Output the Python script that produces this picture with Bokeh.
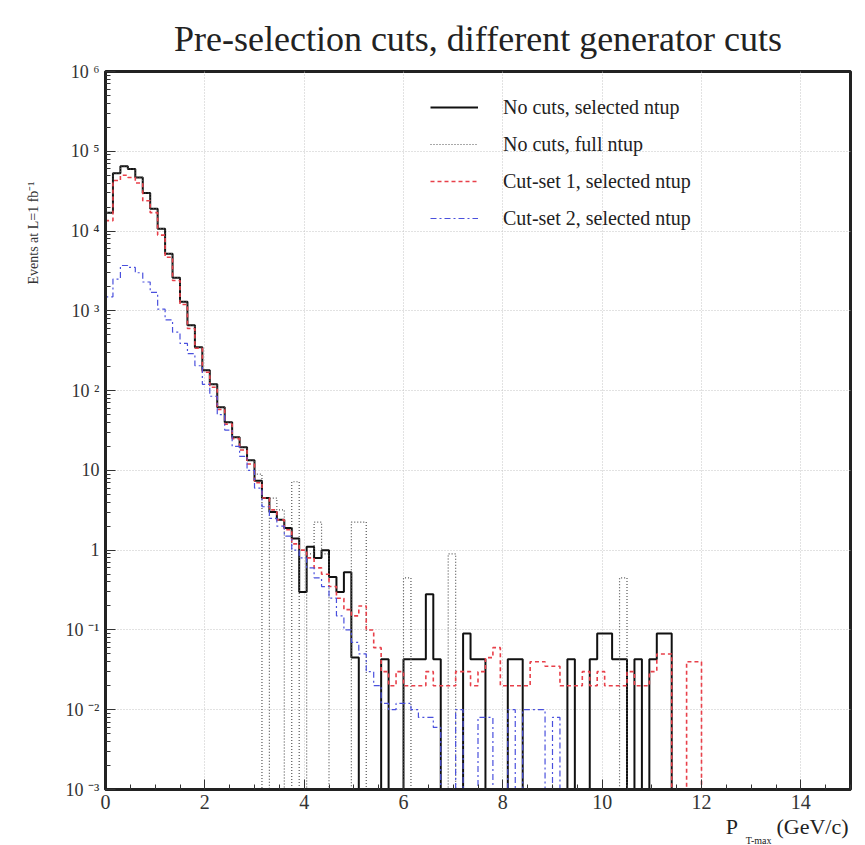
import math
from bokeh.plotting import figure
from bokeh.models import (FixedTicker, CustomJSTickFormatter, Legend, LegendItem,
                          Range1d, Title)
from bokeh.embed import file_html
from bokeh.resources import INLINE

# P_T-max histograms, 100 bins of 0.15 GeV/c from 0 to 15 (events at L = 1 fb^-1)
BIN_WIDTH = 0.15

no_cuts_selected = [
    1.7e4, 5.3e4, 6.5e4, 6.0e4, 4.7e4, 3.0e4, 1.9e4, 1.07e4, 5.2e3, 2.6e3,
    1.3e3, 660, 350, 180, 120, 62, 40, 26, 19.5, 13.4,
    7.4, 4.5, 3.0, 2.4, 1.9, 1.4, 0.3, 1.1, 0.8, 1.0,
    0.46, 0.3, 0.53, 0.045, 0, 0, 0, 0.043, 0, 0,
    0.043, 0.043, 0.043, 0.28, 0.043, 0, 0, 0, 0.09, 0.043,
    0.043, 0, 0, 0, 0.043, 0.043, 0, 0, 0, 0,
    0, 0, 0.043, 0, 0, 0.043, 0.09, 0.09, 0.043, 0.043,
    0, 0.043, 0, 0.043, 0.09, 0.09,
]

no_cuts_full = [
    1.7e4, 5.3e4, 6.5e4, 6.0e4, 4.7e4, 3.0e4, 1.9e4, 1.07e4, 5.2e3, 2.6e3,
    1.3e3, 660, 350, 180, 120, 62, 40, 26, 19.5, 13.4,
    9.0, 0, 4.5, 3.2, 0, 7.2, 0, 0.9, 2.25, 0.9,
    0, 0, 0, 2.25, 2.25, 0, 0, 0, 0, 0,
    0.45, 0, 0, 0, 0, 0, 0.9, 0, 0, 0,
    0, 0, 0, 0, 0, 0, 0, 0, 0, 0,
    0, 0, 0, 0, 0, 0, 0, 0, 0, 0.45,
]

cutset1_selected = [
    1.35e4, 4.3e4, 5.0e4, 4.7e4, 4.0e4, 2.4e4, 1.7e4, 8.9e3, 4.7e3, 2.4e3,
    1.2e3, 600, 340, 170, 110, 58, 38, 25, 18, 12,
    7.0, 4.5, 3.2, 2.4, 1.8, 1.2, 1.0, 0.8, 0.6, 0.5,
    0.35, 0.25, 0.18, 0.15, 0.2, 0.1, 0.06, 0.03, 0.02, 0.03,
    0.02, 0.02, 0.02, 0.03, 0.02, 0.02, 0.02, 0.03, 0.03, 0.02,
    0.03, 0.045, 0.06, 0.02, 0.02, 0.02, 0.02, 0.04, 0.04, 0.035,
    0.035, 0.02, 0.02, 0.02, 0.03, 0.02, 0.03, 0.02, 0.02, 0.02,
    0.03, 0.02, 0.02, 0.03, 0.05, 0.05, 0, 0, 0.04, 0.04,
]

cutset2_selected = [
    1.5e3, 2.5e3, 3.7e3, 3.5e3, 3.0e3, 2.3e3, 1.7e3, 1.05e3, 770, 540,
    390, 290, 205, 120, 85, 50, 32, 20, 15, 10,
    6.0, 3.5, 2.5, 2.0, 1.5, 1.0, 0.8, 0.6, 0.45, 0.35,
    0.25, 0.15, 0.1, 0.07, 0.05, 0.03, 0.02, 0.012, 0.01, 0.012,
    0.012, 0.01, 0.008, 0.008, 0.006, 0, 0, 0.01, 0, 0,
    0.008, 0.008, 0, 0, 0.01, 0, 0.01, 0.01, 0.01, 0,
    0.008,
]

y_ticks = [1e-3, 1e-2, 1e-1, 1, 10, 1e2, 1e3, 1e4, 1e5, 1e6]
x_ticks = [0, 2, 4, 6, 8, 10, 12, 14]

series_labels = ["No cuts, selected ntup", "No cuts, full ntup",
                 "Cut-set 1, selected ntup", "Cut-set 2, selected ntup"]

SERIF = "Liberation Serif"
INK = "#222222"
NBSP = "\u00a0"
FLOOR = 1e-5  # empty bins drop below the visible range


def outline(values):
    """Histogram outline as a list of (x, y) vertices."""
    xs, ys = [0.0], [FLOOR]
    for i, v in enumerate(values):
        h = v if v > 0 else FLOOR
        xs += [i * BIN_WIDTH, (i + 1) * BIN_WIDTH]
        ys += [h, h]
    xs.append(len(values) * BIN_WIDTH)
    ys.append(FLOOR)
    return xs, ys


p = figure(width=865, height=845, output_backend="svg", toolbar_location=None,
           y_axis_type="log", x_range=Range1d(0, 15), y_range=Range1d(1e-3, 1e6),
           min_border_left=105, min_border_right=15, min_border_top=71,
           min_border_bottom=56, frame_width=745, frame_height=718)
p.title.visible = False
p.background_fill_color = "white"
p.border_fill_color = "white"
p.outline_line_color = INK
p.outline_line_width = 3

# grid
for g in (p.xgrid, p.ygrid):
    g.grid_line_color = "#c4c4c4"
    g.grid_line_dash = "1 2"
    g.grid_line_width = 1

# axes
p.xaxis.ticker = FixedTicker(ticks=x_ticks,
                             minor_ticks=[k * 0.5 for k in range(31)])
minor_y = [m * 10.0 ** e for e in range(-3, 6) for m in range(2, 10)]
p.yaxis.ticker = FixedTicker(ticks=y_ticks, minor_ticks=minor_y)
p.yaxis.formatter = CustomJSTickFormatter(code="""
    const e = Math.round(Math.log10(tick));
    if (e == 0) return "1";
    if (e == 1) return "10";
    const sup = {"-": "\u207b", "0": "\u2070", "1": "\u00b9", "2": "\u00b2", "3": "\u00b3",
                 "4": "\u2074", "5": "\u2075", "6": "\u2076", "7": "\u2077", "8": "\u2078", "9": "\u2079"};
    return "10 " + String(e).split("").map(c => sup[c]).join("");
""")
for ax in (p.xaxis, p.yaxis):
    ax.axis_line_width = 3
    ax.axis_line_color = INK
    ax.major_tick_in = 10
    ax.major_tick_out = 0
    ax.minor_tick_in = 5
    ax.minor_tick_out = 0
    ax.major_tick_line_color = "#333333"
    ax.minor_tick_line_color = "#333333"
    ax.major_label_text_font = SERIF
    ax.major_label_text_color = "#333333"
p.xaxis.major_label_text_font_size = "20px"
p.yaxis.major_label_text_font_size = "18px"
p.xaxis.major_label_standoff = 5
p.yaxis.major_label_standoff = 6

styles = [
    dict(line_color="#111111", line_width=2.0, line_dash="solid"),
    dict(line_color="#555555", line_width=1.2, line_dash="1 2"),
    dict(line_color="#e8404a", line_width=1.6, line_dash="4 3"),
    dict(line_color="#4a50dd", line_width=1.2, line_dash="6 3 2 3"),
]
data = [no_cuts_selected, no_cuts_full, cutset1_selected, cutset2_selected]

renderers = []
for values, st in zip(data, styles):
    xs, ys = outline(values)
    renderers.append(p.line(xs, ys, **st))

legend = Legend(items=[LegendItem(label=lab, renderers=[r])
                       for lab, r in zip(series_labels, renderers)],
                location=(325, 559), orientation="vertical",
                glyph_width=48, glyph_height=24, label_height=24, spacing=13,
                label_standoff=25, padding=10,
                label_text_font=SERIF, label_text_font_size="20px",
                label_text_color=INK,
                border_line_color=None, background_fill_alpha=0)
p.add_layout(legend, "center")

# title and axis titles in the side panels
p.add_layout(Title(text="Pre-selection cuts, different generator cuts",
                   align="center", standoff=25, text_font=SERIF,
                   text_font_size="36px", text_font_style="normal",
                   text_color=INK), "above")
p.add_layout(Title(text="Events at L=1 fb\u207b\u00b9", align="right", offset=110,
                   standoff=44, text_font=SERIF, text_font_size="14px",
                   text_font_style="normal", text_color="#333333"), "left")
p.add_layout(Title(text="P" + NBSP * 7 + "(GeV/c)", align="right", offset=2,
                   standoff=0, text_font=SERIF, text_font_size="22px",
                   text_font_style="normal", text_color=INK), "below")
p.add_layout(Title(text="T-max", align="right", offset=79,
                   standoff=-14, text_font=SERIF, text_font_size="10px",
                   text_font_style="normal", text_color=INK), "below")

open("out.html", "w").write(file_html(p, INLINE))
